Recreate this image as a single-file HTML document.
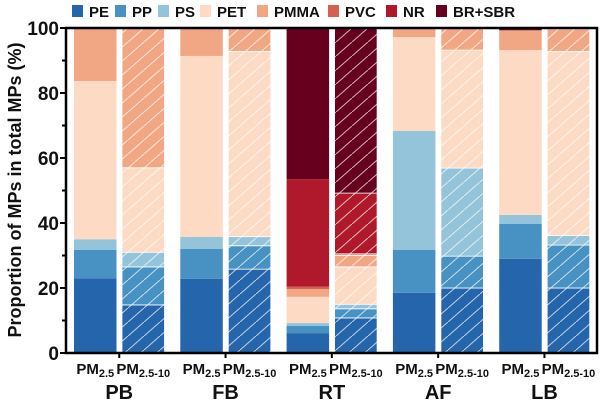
<!DOCTYPE html>
<html><head><meta charset="utf-8"><style>
body{margin:0;background:#fff}
svg text{font-family:"Liberation Sans",Arial,sans-serif;font-weight:bold;fill:#111}
</style></head><body>
<svg id="chart" width="606" height="405" xmlns="http://www.w3.org/2000/svg">
<defs>
<pattern id="hatch" patternUnits="userSpaceOnUse" width="16" height="14">
<line x1="-1" y1="14.9" x2="17" y2="-0.9" stroke="#fff" stroke-opacity="0.7" stroke-width="1"/>
</pattern>
</defs>
<g id="bars"></g>
<g id="axes"></g>
<g id="legend"></g>
</svg>
<script>
const polymers = ["PE","PP","PS","PET","PMMA","PVC","NR","BR+SBR"];
const colors = ["#2565ab","#4792c3","#93c4d9","#fddac4","#f1a784","#d6604d","#b0192c","#67001f"];
const groups = ["PB","FB","RT","AF","LB"];
// cumulative tops (%) for each bar: PE,PP,PS,PET,PMMA,PVC,NR,BR+SBR
const pm25 = [
 [23,31.7,35,83.7,99.6,100,100,100],
 [22.8,32,35.7,91.4,99.6,100,100,100],
 [6,8.3,9.2,17.3,19.7,20.4,53.5,100],
 [18.5,31.7,68.3,97.2,99.7,100,100,100],
 [29,39.7,42.5,93.2,99.3,99.3,99.3,100]
];
const pm10 = [
 [14.8,26.5,31,57,100,100,100,100],
 [25.8,33,35.8,92.8,100,100,100,100],
 [10.8,13.6,15,26.5,30,30.5,49.2,100],
 [20,29.8,56.9,93.2,100,100,100,100],
 [20,33.2,36.2,92.8,99.7,99.7,99.7,100]
];
const yTicks = [0,20,40,60,80,100];
const NS="http://www.w3.org/2000/svg";
const X0=66,X1=597,Y0=353,Y1=28;
const yy = v => Y0-(Y0-Y1)*v/100;
const groupX = i => 74+i*106.3;
const BW=42.5;
function mk(tag,attrs,parent){const e=document.createElementNS(NS,tag);for(const k in attrs)e.setAttribute(k,attrs[k]);parent.appendChild(e);return e;}
const gb=document.getElementById('bars'), ga=document.getElementById('axes'), gl=document.getElementById('legend');
groups.forEach((g,i)=>{
 [pm25[i],pm10[i]].forEach((tops,j)=>{
  const x=groupX(i)+j*48;let prev=0;
  tops.forEach((t,k)=>{
   if(t-prev<=0.01){return;}
   const r=mk('rect',{x:x,y:yy(t),width:BW,height:yy(prev)-yy(t),fill:colors[k]},gb);
   
   
   if(j){const h=mk('rect',{x:x,y:yy(t),width:BW,height:yy(prev)-yy(t),fill:'url(#hatch)',stroke:'#fff','stroke-width':0.8},gb);
    }
   prev=t;
  });
 });
 const c=groupX(i)+BW+2.75;
 const tk=mk('line',{x1:c,x2:c,y1:Y0,y2:Y0+5,stroke:'#000','stroke-width':2},ga);
 
 const l1=mk('text',{x:groupX(i)+BW/2,y:374,'font-size':15,'text-anchor':'middle'},ga);
 l1.innerHTML='PM<tspan font-size="11" dy="3">2.5</tspan>';
 
 const l2=mk('text',{x:groupX(i)+48+BW/2,y:374,'font-size':15,'text-anchor':'middle'},ga);
 l2.innerHTML='PM<tspan font-size="11" dy="3">2.5-10</tspan>';
 
 const gl2=mk('text',{x:c,y:399,'font-size':20,'text-anchor':'middle'},ga);
 gl2.textContent=g;
 
});
const fr=mk('rect',{x:X0,y:Y1,width:X1-X0,height:Y0-Y1,fill:'none',stroke:'#000','stroke-width':2.5},ga);

for(let v=0;v<=100;v+=10){
 const major=yTicks.includes(v);
 const t=mk('line',{x1:X0-(major?6:4),x2:X0,y1:yy(v),y2:yy(v),stroke:'#000','stroke-width':2},ga);
 
}
yTicks.forEach(v=>{
 const t=mk('text',{x:X0-7,y:yy(v)+7,'font-size':19,'text-anchor':'end'},ga);
 t.textContent=v;
 
});
const yt=mk('text',{x:0,y:0,'font-size':18,'text-anchor':'middle',transform:'translate(21,190) rotate(-90)'},ga);
yt.textContent='Proportion of MPs in total MPs (%)';

const legX=[72,115,158,200,257,328,386,436];
polymers.forEach((p,k)=>{
 const s=mk('rect',{x:legX[k],y:5,width:11,height:12,fill:colors[k]},gl);
 
 const t=mk('text',{x:legX[k]+17,y:17,'font-size':15},gl);
 t.textContent=p;
 
});
</script>
</body></html>
